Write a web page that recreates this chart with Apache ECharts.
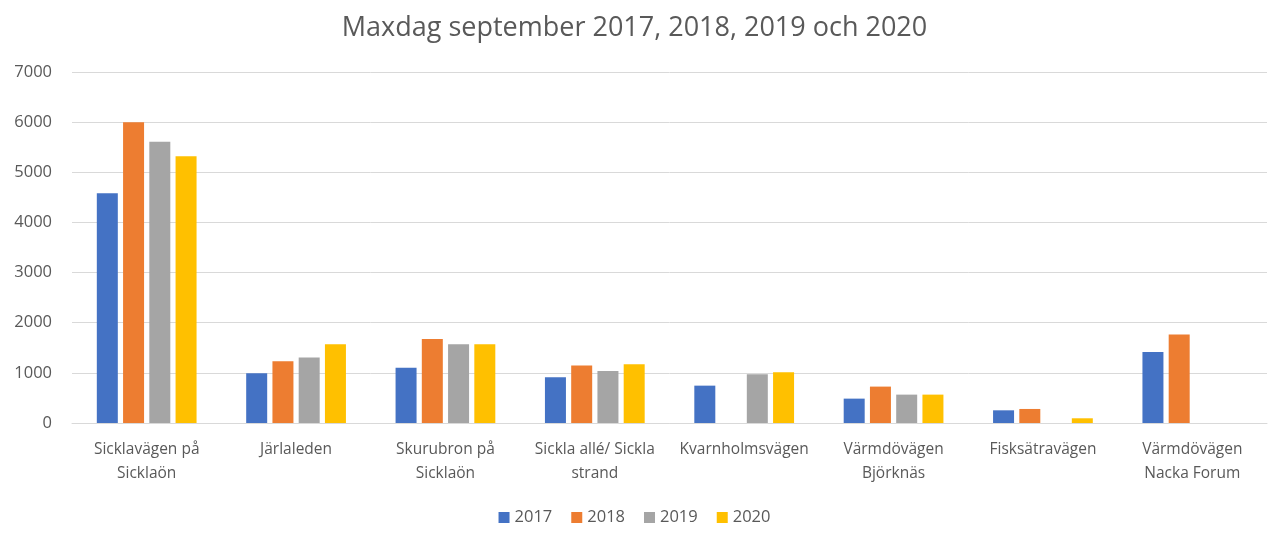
<!DOCTYPE html>
<html>
<head>
<meta charset="utf-8">
<script src="https://cdn.jsdelivr.net/npm/echarts@6/dist/echarts.min.js"></script>
<style>
  html, body { margin: 0; padding: 0; background: #fff; }
  #chart { width: 1269px; height: 540px; }
</style>
</head>
<body>
<div id="chart"></div>
<script>
const categories = [
  'Sicklavägen på\nSicklaön',
  'Järlaleden',
  'Skurubron på\nSicklaön',
  'Sickla allé/ Sickla\nstrand',
  'Kvarnholmsvägen',
  'Värmdövägen\nBjörknäs',
  'Fisksätravägen',
  'Värmdövägen\nNacka Forum'
]
// '-' = no value for that year
const v2017 = [4580, 990, 1100, 910, 745, 486, 253, 1416]
const v2018 = [6000, 1230, 1675, 1145, '-', 726, 280, 1763]
const v2019 = [5610, 1304, 1570, 1037, 971, 566, '-', '-']
const v2020 = [5320, 1570, 1570, 1171, 1011, 566, 94, '-']
const years = ['2017', '2018', '2019', '2020']
const colors = ['#4472c4', '#ed7d31', '#a5a5a5', '#ffc000']

const font = 'Open Sans'
const myChart = echarts.init(document.getElementById('chart'))

const seriesData = [v2017, v2018, v2019, v2020]
const option = {
  color: colors,
  title: {
    text: 'Maxdag september 2017, 2018, 2019 och 2020',
    left: 'center',
    top: 10,
    textStyle: { fontFamily: font, fontSize: 27, fontWeight: 'normal', color: '#595959' }
  },
  legend: {
    bottom: 9,
    left: 'center',
    itemWidth: 11,
    itemHeight: 11,
    itemGap: 19,
    icon: 'rect',
    textStyle: { fontFamily: font, fontSize: 16.5, color: '#595959' },
    data: years
  },
  grid: { left: 72, right: 2, top: 72, bottom: 117 },
  xAxis: {
    type: 'category',
    data: categories,
    axisTick: { show: false },
    axisLine: { lineStyle: { color: '#d9d9d9' } },
    axisLabel: {
      fontFamily: font, fontSize: 15.5, color: '#595959',
      margin: 15, lineHeight: 24, interval: 0
    }
  },
  yAxis: {
    type: 'value',
    min: 0,
    max: 7000,
    interval: 1000,
    axisLabel: {
      fontFamily: font, fontSize: 16.5, color: '#595959', margin: 20,
      formatter: function (v) { return String(v) }
    },
    splitLine: { lineStyle: { color: '#d9d9d9' } }
  },
  series: years.map(function (y, i) {
    return {
      name: y,
      type: 'bar',
      data: seriesData[i],
      barWidth: 21,
      barGap: '25%'
    }
  })
}
myChart.setOption(option)
window.addEventListener('resize', function () { myChart.resize() })
</script>
</body>
</html>
